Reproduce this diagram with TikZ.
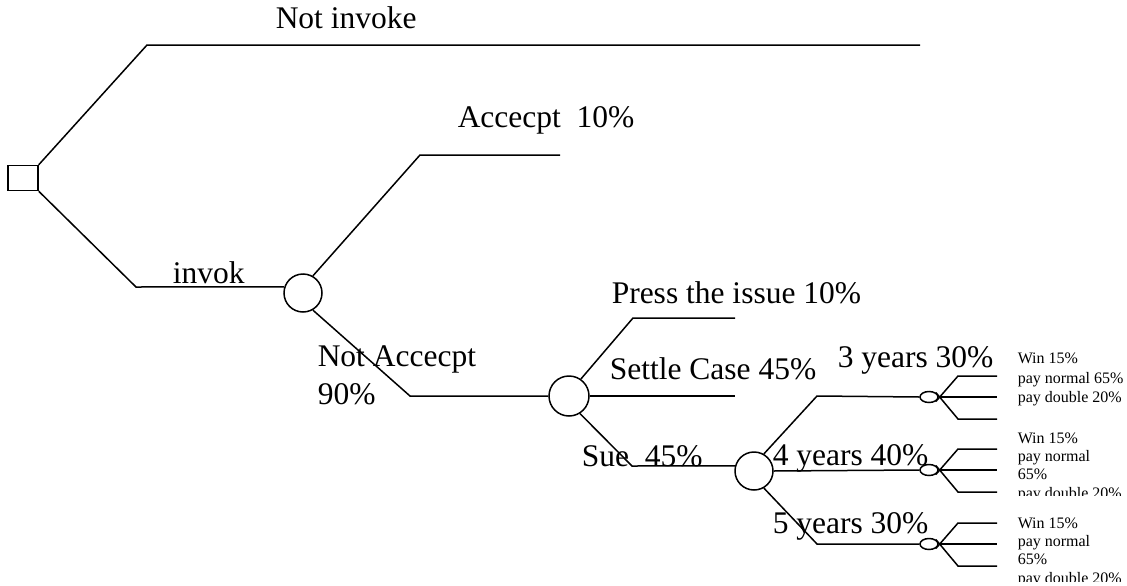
\documentclass[tikz,border=0pt]{standalone}
\usepackage{fontspec}
\setmainfont{Liberation Serif}
\usetikzlibrary{arrows,shapes}

\begin{document}
\begin{tikzpicture}[line width=1.5bp, every node/.style={inner sep=0pt},
	chance/.style={draw, circle, minimum size=38bp},
	outc/.style={draw, ellipse, minimum width=18bp, minimum height=11bp},
	lbl/.style={anchor=base west, font=\fontsize{31.5bp}{36bp}\selectfont},
	sml/.style={anchor=base west, font=\fontsize{16bp}{18bp}\selectfont}]
	\useasboundingbox (0bp,0bp) rectangle (1127bp,-586bp);

	\node (d0) at (23bp,-178bp)  [draw, rectangle, minimum width=30bp, minimum height=25bp] {};
	\node (c1) at (303bp,-293bp) [chance] {};
	\node (c2) at (569bp,-396bp) [chance, minimum size=40bp] {};
	\node (c3) at (754bp,-471bp) [chance] {};
	\node (e1) at (929bp,-397bp) [outc] {};
	\node (e2) at (929bp,-470bp) [outc] {};
	\node (e3) at (929bp,-544bp) [outc] {};

	\coordinate (ni1) at (147bp,-45bp);
	\coordinate (ni2) at (920bp,-45bp);
	\coordinate (iv1) at (136bp,-287bp);
	\coordinate (ac1) at (420bp,-155bp);
	\coordinate (ac2) at (560bp,-155bp);
	\coordinate (na1) at (410bp,-396bp);
	\coordinate (pr1) at (633bp,-318bp);
	\coordinate (pr2) at (735bp,-318bp);
	\coordinate (se1) at (735bp,-396bp);
	\coordinate (su1) at (632bp,-466bp);
	\coordinate (y3) at (817bp,-396bp);
	\coordinate (y5) at (817bp,-544bp);

	\draw (d0.north east) -- (ni1) -- (ni2);
	\draw (d0.south east) -- (iv1) -- (c1.162);
	\draw (c1.60) -- (ac1) -- (ac2);
	\draw (c1.-60) -- (na1) -- (c2.west);
	\draw (c2.55) -- (pr1) -- (pr2);
	\draw (c2.east) -- (se1);
	\draw (c2.-58) -- (su1) -- (c3.165);
	\draw (c3.60) -- (y3) -- (e1.west);
	\draw (c3.east) -- (e2.west);
	\draw (c3.-60) -- (y5) -- (e3.west);

	\foreach \e in {e1,e2,e3} {
		\path (\e.center) ++(29bp,-22bp) coordinate (\e a) ++(39bp,0bp) coordinate (\e b);
		\path (\e.center) ++(68bp,0bp) coordinate (\e m);
		\path (\e.center) ++(29bp,21bp) coordinate (\e c) ++(39bp,0bp) coordinate (\e d);
		\draw (\e.north east) -- (\e a) -- (\e b);
		\draw (\e.east) -- (\e m);
		\draw (\e.south east) -- (\e c) -- (\e d);
	}

	\node (t1) at (275bp,-28bp)  [lbl] {Not invoke};
	\node (t2) at (457bp,-127bp) [lbl] {Accecpt\ \ 10\%};
	\node (t3) at (172bp,-283bp) [lbl] {invok};
	\node (t4) at (317bp,-366bp) [lbl] {Not Accecpt};
	\node (t5) at (317bp,-404bp) [lbl] {90\%};
	\node (t6) at (611bp,-303bp) [lbl] {Press the issue 10\%};
	\node (t7) at (609bp,-379bp) [lbl] {Settle Case 45\%};
	\node (t8) at (581bp,-466bp) [lbl] {Sue\ \ 45\%};
	\node (t9) at (837bp,-367bp) [lbl] {3 years 30\%};
	\node (t10) at (772bp,-465bp) [lbl] {4 years 40\%};
	\node (t11) at (772bp,-533bp) [lbl] {5 years 30\%};

	% outcomes, 3 years
	\node (w1) at (1017bp,-363bp) [sml] {Win 15\%};
	\node (p1) at (1017bp,-383bp) [sml] {pay normal 65\%};
	\node (b1) at (1017bp,-402bp) [sml] {pay double 20\%};
	% outcomes, 4 years
	\node (w2) at (1017bp,-443bp) [sml] {Win 15\%};
	\node (p2) at (1017bp,-461bp) [sml] {pay normal};
	\node (q2) at (1017bp,-479bp) [sml] {65\%};
	\begin{scope}
		\clip (1000bp,-485bp) rectangle (1127bp,-495bp);
		\node (b2) at (1017bp,-498bp) [sml] {pay double 20\%};
	\end{scope}
	% outcomes, 5 years
	\node (w3) at (1017bp,-528bp) [sml] {Win 15\%};
	\node (p3) at (1017bp,-546bp) [sml] {pay normal};
	\node (q3) at (1017bp,-564bp) [sml] {65\%};
	\begin{scope}
		\clip (1000bp,-570bp) rectangle (1127bp,-581bp);
		\node (b3) at (1017bp,-583bp) [sml] {pay double 20\%};
	\end{scope}
\end{tikzpicture}
\end{document}
